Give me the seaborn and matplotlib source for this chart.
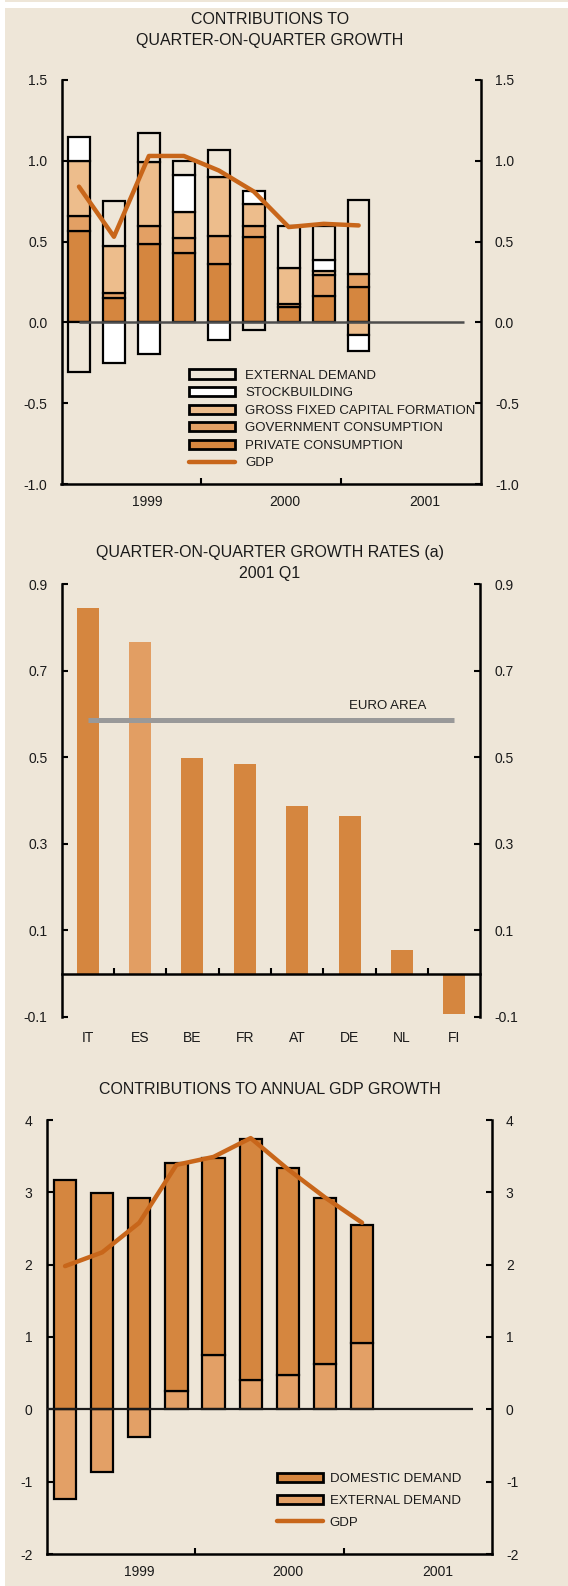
import numpy as np
import pandas as pd
import matplotlib
matplotlib.use("Agg")
import matplotlib.pyplot as plt
from matplotlib.patches import Patch, Rectangle
from matplotlib.lines import Line2D
from matplotlib.transforms import blended_transform_factory
import seaborn as sns

# ---------------- data ----------------
quarter_idx = [0, 1, 2, 3, 4, 5, 6, 7, 8]
years = ["1999", "2000", "2001"]

private_cons = [0.565, 0.15, 0.485, 0.43, 0.36, 0.53, 0.095, 0.165, 0.22]
government_cons = [0.095, 0.03, 0.11, 0.095, 0.175, 0.065, 0.02, 0.13, 0.08]
gfcf = [0.34, 0.29, 0.40, 0.16, 0.365, 0.14, 0.22, 0.02, -0.08]
stockbuilding = [0.15, -0.25, -0.195, 0.23, -0.11, 0.08, 0.0, 0.07, -0.10]
external_q = [-0.31, 0.28, 0.18, 0.085, 0.165, -0.05, 0.26, 0.21, 0.46]
gdp_q = [0.84, 0.53, 1.03, 1.03, 0.94, 0.81, 0.59, 0.61, 0.60]

countries = ["IT", "ES", "BE", "FR", "AT", "DE", "NL", "FI"]
country_growth = [0.845, 0.765, 0.497, 0.484, 0.388, 0.365, 0.055, -0.092]
euro_area = 0.585

annual_domestic = [3.17, 2.99, 2.92, 3.14, 2.73, 3.33, 2.85, 2.30, 1.63]
annual_external = [-1.24, -0.87, -0.38, 0.26, 0.75, 0.41, 0.48, 0.62, 0.92]
annual_gdp = [1.98, 2.17, 2.58, 3.38, 3.49, 3.75, 3.32, 2.93, 2.58]

# ---------------- style ----------------
BG = "#EEE6D8"
PRIV_C = "#D5863F"
GOV_C = "#E3A064"
GFCF_C = "#EDBD8C"
STOCK_C = "#FFFFFF"
EXT_C = BG
GDP_C = "#C8661A"
ES_C = "#E29E63"
EXT_ANN_C = "#E3A066"
TXT = "#1A1A1A"

sns.set_theme(style="white")
plt.rcParams["font.family"] = ["Liberation Sans", "DejaVu Sans"]

W, H = 568, 1586
fig = plt.figure(figsize=(W / 100, H / 100), dpi=100)
fig.patch.set_facecolor("white")
fig.add_artist(Rectangle((5 / W, 0), 1 - 5 / W, 1 - 8 / H, transform=fig.transFigure,
                         facecolor=BG, edgecolor="none", zorder=0))
fig.add_artist(Rectangle((5 / W, 1 - 1.5 / H), 1 - 5 / W, 1.5 / H, transform=fig.transFigure,
                         facecolor=BG, edgecolor="none", zorder=0))


def rect(l, r, t, b):
    return [l / W, 1 - b / H, (r - l) / W, (b - t) / H]


def style_axes(ax, yticks, fmt):
    ax.set_facecolor("none")
    for s in ["left", "right", "bottom"]:
        ax.spines[s].set_visible(True)
        ax.spines[s].set_color("black")
        ax.spines[s].set_linewidth(1.8)
    ax.spines["top"].set_visible(False)
    ax.set_yticks(yticks)
    ax.set_yticklabels([fmt.format(v) for v in yticks])
    ax.tick_params(axis="y", which="major", direction="in", length=4, width=1.5,
                   left=True, right=True, labelleft=True, labelright=True,
                   labelsize=10, pad=10, color="black", labelcolor=TXT)
    ax.set_xlabel("")
    ax.set_ylabel("")


def year_axis(ax, label_pos):
    ax.set_xlim(-0.5, 11.5)
    ax.set_xticks([3.5, 7.5])
    ax.set_xticklabels([])
    ax.set_xticks(label_pos, minor=True)
    ax.set_xticklabels(years, minor=True)
    ax.tick_params(axis="x", which="major", direction="in", length=4, width=1.5,
                   bottom=True, color="black")
    ax.tick_params(axis="x", which="minor", length=0, bottom=True, pad=8,
                   labelsize=10, labelcolor=TXT)


def title(y, s):
    fig.text(270 / W, 1 - y / H, s, ha="center", va="center", fontsize=11.5, color=TXT)


# ================= top panel =================
ax1 = fig.add_axes(rect(61.5, 481, 80, 484))
style_axes(ax1, [-1.0, -0.5, 0.0, 0.5, 1.0, 1.5], "{:.1f}")
ax1.set_ylim(-1.0, 1.5)
year_axis(ax1, [1.95, 5.9, 9.9])

x = np.array(quarter_idx, dtype=float)
pos_base = np.zeros(len(x))
neg_base = np.zeros(len(x))
components = [(private_cons, PRIV_C), (government_cons, GOV_C), (gfcf, GFCF_C),
              (stockbuilding, STOCK_C), (external_q, EXT_C)]
for vals, col in components:
    v = np.array(vals, dtype=float)
    bottom = np.where(v >= 0, pos_base, neg_base)
    m = v != 0
    ax1.bar(x[m], v[m], bottom=bottom[m], width=0.62, color=col, edgecolor="black",
            linewidth=1.6, zorder=2)
    pos_base = pos_base + np.where(v > 0, v, 0)
    neg_base = neg_base + np.where(v < 0, v, 0)

ax1.hlines(0, 0, 11, color="#4D4D4D", lw=1.8, zorder=3)
sns.lineplot(x=quarter_idx, y=gdp_q, ax=ax1, color=GDP_C, lw=3.2, zorder=5, legend=False)
ax1.set_xlabel("")
ax1.set_ylabel("")

handles1 = [
    Patch(facecolor=EXT_C, edgecolor="black", lw=2, label="EXTERNAL DEMAND"),
    Patch(facecolor=STOCK_C, edgecolor="black", lw=2, label="STOCKBUILDING"),
    Patch(facecolor=GFCF_C, edgecolor="black", lw=2, label="GROSS FIXED CAPITAL FORMATION"),
    Patch(facecolor=GOV_C, edgecolor="black", lw=2, label="GOVERNMENT CONSUMPTION"),
    Patch(facecolor=PRIV_C, edgecolor="black", lw=2, label="PRIVATE CONSUMPTION"),
    Line2D([], [], color=GDP_C, lw=3.2, label="GDP"),
]
leg1 = ax1.legend(handles=handles1, loc="upper left", bbox_to_anchor=(189 / W, 1 - 369.5 / H),
                  bbox_transform=fig.transFigure, frameon=False, fontsize=9.5,
                  handlelength=3.5, handleheight=0.68, handletextpad=0.75,
                  labelspacing=0.41, borderpad=0, borderaxespad=0)
for t in leg1.get_texts():
    t.set_color(TXT)

title(20, "CONTRIBUTIONS TO")
title(41, "QUARTER-ON-QUARTER GROWTH")

# ================= middle panel =================
ax2 = fig.add_axes(rect(61.5, 480.5, 584, 1017))
df_c = pd.DataFrame({"country": countries, "growth": country_growth})
palette = {c: (ES_C if c == "ES" else PRIV_C) for c in countries}
sns.barplot(data=df_c, x="country", y="growth", hue="country", palette=palette,
            width=0.42, dodge=False, legend=False, saturation=1, errorbar=None,
            linewidth=0, ax=ax2, zorder=2)
style_axes(ax2, [-0.1, 0.1, 0.3, 0.5, 0.7, 0.9], "{:.1f}")
ax2.set_ylim(-0.1, 0.9)
ax2.set_xlim(-0.5, len(countries) - 0.5)
ax2.spines["bottom"].set_position(("data", 0))
ax2.set_xticks(np.arange(len(countries) - 1) + 0.5)
ax2.set_xticklabels([])
ax2.tick_params(axis="x", which="major", direction="in", length=4, width=1.5,
                bottom=True, color="black")
trans2 = blended_transform_factory(ax2.transData, ax2.transAxes)
for i, c in enumerate(countries):
    ax2.text(i, -(1038 - 1017) / (1017 - 584), c, transform=trans2, ha="center",
             va="center", fontsize=10, color=TXT)
ax2.hlines(euro_area, 0, len(countries) - 1, color="#999999", lw=3.6, zorder=4)
ax2.text(5.72, 0.618, "EURO AREA", ha="center", va="center", fontsize=9.5, color=TXT)

title(553, "QUARTER-ON-QUARTER GROWTH RATES (a)")
title(573.5, "2001 Q1")

# ================= bottom panel =================
ax3 = fig.add_axes(rect(46.5, 492, 1120, 1554))
style_axes(ax3, [-2, -1, 0, 1, 2, 3, 4], "{:d}")
ax3.set_ylim(-2, 4)
year_axis(ax3, [2.0, 6.0, 10.05])

ext = np.array(annual_external, dtype=float)
dom = np.array(annual_domestic, dtype=float)
ax3.bar(x, ext, width=0.6, color=EXT_ANN_C, edgecolor="black", linewidth=1.6, zorder=2)
ax3.bar(x, dom, bottom=np.maximum(ext, 0), width=0.6, color=PRIV_C, edgecolor="black",
        linewidth=1.6, zorder=2)
ax3.hlines(0, -0.5, 11, color="#1A1A1A", lw=1.6, zorder=3)
sns.lineplot(x=quarter_idx, y=annual_gdp, ax=ax3, color=GDP_C, lw=3.2, zorder=5, legend=False)
ax3.set_xlabel("")
ax3.set_ylabel("")

handles3 = [
    Patch(facecolor=PRIV_C, edgecolor="black", lw=2, label="DOMESTIC DEMAND"),
    Patch(facecolor=EXT_ANN_C, edgecolor="black", lw=2, label="EXTERNAL DEMAND"),
    Line2D([], [], color=GDP_C, lw=3.2, label="GDP"),
]
leg3 = ax3.legend(handles=handles3, loc="upper left", bbox_to_anchor=(277 / W, 1 - 1472.5 / H),
                  bbox_transform=fig.transFigure, frameon=False, fontsize=9.5,
                  handlelength=3.5, handleheight=0.68, handletextpad=0.5,
                  labelspacing=0.75, borderpad=0, borderaxespad=0)
for t in leg3.get_texts():
    t.set_color(TXT)

title(1089, "CONTRIBUTIONS TO ANNUAL GDP GROWTH")

fig.savefig("out.png", dpi=100, facecolor=fig.get_facecolor())
